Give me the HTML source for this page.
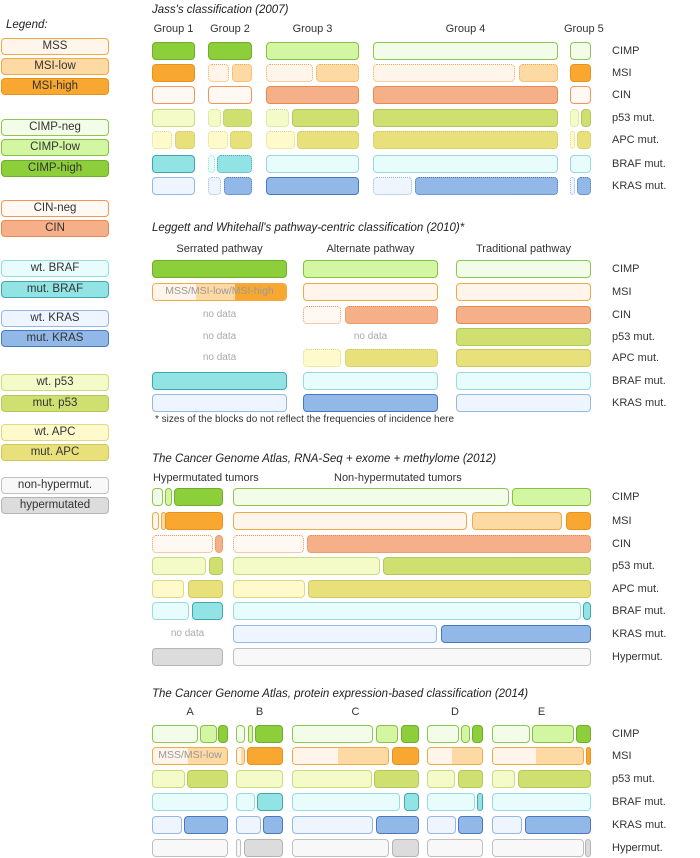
<!DOCTYPE html>
<html><head><meta charset="utf-8">
<style>
body{margin:0;width:700px;height:858px;background:#fff;position:relative;overflow:hidden;font-family:"Liberation Sans",sans-serif;color:#333}
.t{position:absolute;font-size:11px;white-space:nowrap}
.h{font-style:italic;font-size:11.5px;color:#222}
.b{position:absolute;box-sizing:border-box;border-radius:4px;border:1.5px solid;overflow:hidden}
.lg{position:absolute;left:1px;width:108px;height:17px;box-sizing:border-box;border-radius:4px;border:1.5px solid;font-size:11.5px;text-align:center;line-height:14px;color:#333}
.nd{position:absolute;font-size:10px;color:#aaa;text-align:center}
.in{position:absolute;top:0;bottom:0}
.bt{position:absolute;left:0;right:0;top:0;bottom:0;text-align:center;font-size:10.5px;line-height:15px;color:#999}
</style></head><body>
<div id="root"></div>
<script>
const C={
mss:['#fff5ea','#f0a848'],low:['#fdd9a4','#f0a848'],high:['#f8a830','#e8921c'],
cneg:['#f3fce8','#8cc850'],clow:['#d2f6a2','#88c040'],chigh:['#8ccf3a','#6eae2c'],
nneg:['#fff8f3','#f0965a'],cin:['#f5b08a','#e88a50'],
wbraf:['#e8fcfc','#94dce2'],mbraf:['#92e4e4','#3ea8b0'],
wkras:['#eef5fe','#94b8e8'],mkras:['#92b8e8','#4a78c0'],
wp53:['#f4fac8','#c8dc80'],mp53:['#cfe070','#b4c85a'],
wapc:['#fefacc','#e0d884'],mapc:['#e8e07a','#d0c660'],
non:['#f8f8f8','#c0c0c0'],hyp:['#dcdcdc','#b4b4b4']};
const root=document.getElementById('root');
function add(html){const d=document.createElement('div');d.innerHTML=html;const e=d.firstChild;root.appendChild(e);return e;}
const legendLabels=['MSS','MSI-low','MSI-high','CIMP-neg','CIMP-low','CIMP-high','CIN-neg','CIN','wt. BRAF','mut. BRAF','wt. KRAS','mut. KRAS','wt. p53','mut. p53','wt. APC','mut. APC','non-hypermut.','hypermutated'];
const legendKeys=['mss','low','high','cneg','clow','chigh','nneg','cin','wbraf','mbraf','wkras','mkras','wp53','mp53','wapc','mapc','non','hyp'];
const legendY=[38,58,78,119,139,160,200,220,260,281,310,330,374,395,424,444,477,497];
let lt=add('<div class="t h" style="left:6px;top:19px">Legend:</div>');

legendLabels.forEach((l,i)=>{const c=C[legendKeys[i]];
 const e=add(`<div class="lg" style="top:${legendY[i]}px;background:${c[0]};border-color:${c[1]}">${l}</div>`);
 
 });

function seg(x0,x1,y,s,gi){
 const w=x1-x0;
 if(s[0]==='nodata'){const e=add(`<div class="nd" style="left:${x0}px;width:${w}px;top:${y+3}px">no data</div>`);
  return;}
 if(s[0]==='multi'){const a=x0+w*s[1],b=x0+w*s[2];const c=C[s[3][0][0]];
  const e=add(`<div class="b" style="left:${a}px;width:${b-a}px;top:${y}px;height:18px;border-color:${c[1]};background:${c[0]}"></div>`);
  
  const bw=b-a;
  s[3].forEach(p=>{const q=document.createElement('div');q.className='in';
   q.style.left=((x0+w*p[1]-a)/bw*100)+'%';q.style.width=((p[2]-p[1])*w/bw*100)+'%';q.style.background=C[p[0]][0];
   
   
   e.appendChild(q);});
  if(s[4]){const t=document.createElement('div');t.className='bt';t.textContent=s[4];
   
   
   e.appendChild(t);}
  return;}
 const c=C[s[0]];const a=x0+w*s[1],b=x0+w*s[2];
 const e=add(`<div class="b" style="left:${a}px;width:${Math.max(b-a,5)}px;top:${y}px;height:18px;background:${c[0]};border-color:${c[1]};border-style:${s[3]?'dotted':'solid'}"></div>`);
 
 
}
function section(sec){
 const h=add(`<div class="t h" style="left:152px;top:${sec.title[1]}px">${sec.title[0]}</div>`);
 
 sec.rows.forEach((r,i)=>{const e=add(`<div class="t" style="left:612px;top:${sec.rowY[i]+3}px">${r}</div>`);
  });
 sec.groups.forEach((g,gi)=>{
  const e=add(`<div class="t" style="left:${g.lx!==undefined?g.lx:g.x0}px;width:${g.lx!==undefined?'auto':(g.x1-g.x0)+'px'};text-align:center;top:${sec.gy}px">${g.name}</div>`);
  
  g.segs.forEach((row,ri)=>row.forEach(s=>seg(g.x0,g.x1,sec.rowY[ri],s,gi)));});
}
const R7=['CIMP','MSI','CIN','p53 mut.','APC mut.','BRAF mut.','KRAS mut.'];
section({title:["Jass's classification (2007)",4],gy:23,rows:R7,rowY:[42,64,86,109,131,155,177],groups:[
{name:'Group 1',x0:152,x1:195,segs:[[['chigh',0,1]],[['high',0,1]],[['nneg',0,1]],[['wp53',0,1]],[['wapc',0,.47,1],['mapc',.53,1,1]],[['mbraf',0,1]],[['wkras',0,1]]]},
{name:'Group 2',x0:208,x1:252,segs:[[['chigh',0,1]],[['mss',0,.48,1],['low',.54,1,1]],[['nneg',0,1]],[['wp53',0,.29,1],['mp53',.35,1,1]],[['wapc',0,.46,1],['mapc',.51,1,1]],[['wbraf',0,.15,1],['mbraf',.2,1,1]],[['wkras',0,.3,1],['mkras',.37,1,1]]]},
{name:'Group 3',x0:266,x1:359,segs:[[['clow',0,1]],[['mss',0,.51,1],['low',.54,1,1]],[['cin',0,1]],[['wp53',0,.25,1],['mp53',.275,1]],[['wapc',0,.31,1],['mapc',.33,1,1]],[['wbraf',0,1]],[['mkras',0,1]]]},
{name:'Group 4',x0:373,x1:558,segs:[[['cneg',0,1]],[['mss',0,.77,1],['low',.79,1,1]],[['cin',0,1]],[['mp53',0,1]],[['mapc',0,1,1]],[['wbraf',0,1]],[['wkras',0,.21,1],['mkras',.225,1,1]]]},
{name:'Group 5',x0:570,x1:591,lx:564,segs:[[['cneg',0,1]],[['high',0,1]],[['nneg',0,1]],[['wp53',0,.45,1],['mp53',.52,1]],[['wapc',0,.24,1],['mapc',.32,1,1]],[['wbraf',0,1]],[['wkras',0,.24,1],['mkras',.32,1,1]]]}]});
section({title:["Leggett and  Whitehall's pathway-centric classification (2010)*",222],gy:243,rows:R7,rowY:[260,283,306,328,349,372,394],groups:[
{name:'Serrated pathway',x0:152,x1:287,segs:[[['chigh',0,1]],[['multi',0,1,[['mss',0,.32],['low',.32,.62],['high',.62,1]],'MSS/MSI-low/MSI-high']],[['nodata']],[['nodata']],[['nodata']],[['mbraf',0,1]],[['wkras',0,1]]]},
{name:'Alternate pathway',x0:303,x1:438,segs:[[['clow',0,1]],[['mss',0,1]],[['nneg',0,.28,1],['cin',.31,1,1]],[['nodata']],[['wapc',0,.28,1],['mapc',.31,1,1]],[['wbraf',0,1]],[['mkras',0,1]]]},
{name:'Traditional pathway',x0:456,x1:591,segs:[[['cneg',0,1]],[['mss',0,1]],[['cin',0,1]],[['mp53',0,1]],[['mapc',0,1]],[['wbraf',0,1]],[['wkras',0,1]]]}]});
let fn=add('<div class="t" style="left:155px;top:414px;font-size:10px">* sizes of the blocks do not reflect the frequencies of incidence here</div>');

const R8=['CIMP','MSI','CIN','p53 mut.','APC mut.','BRAF mut.','KRAS mut.','Hypermut.'];
section({title:["The Cancer Genome Atlas, RNA-Seq + exome + methylome (2012)",453],gy:472,rows:R8,rowY:[488,512,535,557,580,602,625,648],groups:[
{name:'Hypermutated tumors',x0:152,x1:223,lx:153,segs:[[['cneg',0,.16],['clow',.19,.28],['chigh',.305,1]],[['mss',0,.094],['low',.12,.17],['high',.19,1]],[['nneg',0,.86,1],['cin',.89,1,1]],[['wp53',0,.765],['mp53',.8,1]],[['wapc',0,.45],['mapc',.5,1]],[['wbraf',0,.52],['mbraf',.57,1]],[['nodata']],[['hyp',0,1]]]},
{name:'Non-hypermutated tumors',x0:233,x1:591,lx:334,segs:[[['cneg',0,.771],['clow',.78,1]],[['mss',0,.655],['low',.667,.919],['high',.93,1]],[['nneg',0,.198,1],['cin',.208,1,1]],[['wp53',0,.41],['mp53',.42,1]],[['wapc',0,.2],['mapc',.21,1]],[['wbraf',0,.972],['mbraf',.978,1]],[['wkras',0,.571],['mkras',.58,1]],[['non',0,1]]]}]});
section({title:["The Cancer Genome Atlas, protein expression-based classification (2014)",688],gy:706,rows:['CIMP','MSI','p53 mut.','BRAF mut.','KRAS mut.','Hypermut.'],rowY:[725,747,770,793,816,839],groups:[
{name:'A',x0:152,x1:228,segs:[[['cneg',0,.6],['clow',.625,.85],['chigh',.87,1]],[['multi',0,1,[['mss',0,.47],['low',.47,1]],'MSS/MSI-low']],[['wp53',0,.43],['mp53',.465,1]],[['wbraf',0,1]],[['wkras',0,.4],['mkras',.425,1]],[['non',0,1]]]},
{name:'B',x0:236,x1:283,segs:[[['cneg',0,.2],['clow',.245,.36],['chigh',.4,1]],[['multi',0,.2,[['mss',0,.1],['low',.1,.2]]],['high',.23,1]],[['wp53',0,1]],[['wbraf',0,.4],['mbraf',.455,1]],[['wkras',0,.53],['mkras',.58,1]],[['non',0,.11],['hyp',.175,1]]]},
{name:'C',x0:292,x1:419,segs:[[['cneg',0,.635],['clow',.66,.835],['chigh',.86,1]],[['multi',0,.765,[['mss',0,.36],['low',.36,.765]]],['high',.79,1]],[['wp53',0,.627],['mp53',.647,1]],[['wbraf',0,.854],['mbraf',.88,1]],[['wkras',0,.64],['mkras',.665,1]],[['non',0,.765],['hyp',.785,1]]]},
{name:'D',x0:427,x1:483,segs:[[['cneg',0,.57],['clow',.61,.77],['chigh',.81,1]],[['multi',0,1,[['mss',0,.45],['low',.45,1]]]],[['wp53',0,.5],['mp53',.55,1]],[['wbraf',0,.86],['mbraf',.9,1]],[['wkras',0,.51],['mkras',.56,1]],[['non',0,1]]]},
{name:'E',x0:492,x1:591,segs:[[['cneg',0,.38],['clow',.4,.83],['chigh',.85,1]],[['multi',0,.93,[['mss',0,.44],['low',.44,.93]]],['high',.95,1]],[['wp53',0,.23],['mp53',.26,1]],[['wbraf',0,1]],[['wkras',0,.3],['mkras',.33,1]],[['non',0,.925],['hyp',.94,1]]]}]});
</script>
</body></html>
